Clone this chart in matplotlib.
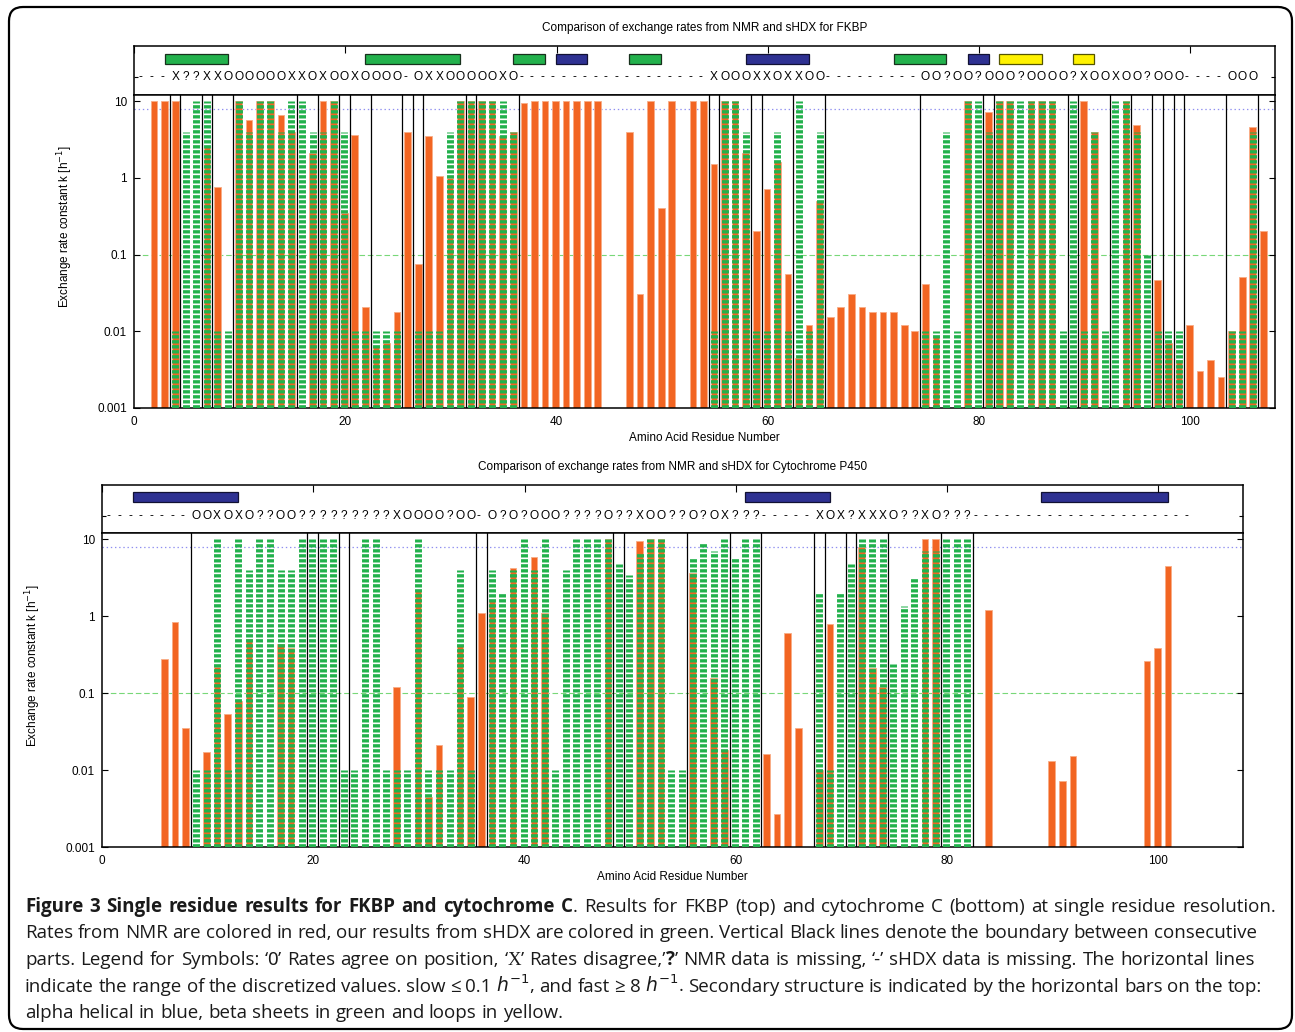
import matplotlib
matplotlib.use("Agg")
import matplotlib.pyplot as plt
import numpy as np
from matplotlib.patches import FancyBboxPatch
from matplotlib.transforms import IdentityTransform
from matplotlib.ticker import NullLocator

plt.rcParams['font.family'] = ['Liberation Sans', 'DejaVu Sans']
plt.rcParams['lines.scale_dashes'] = False

# ---- FKBP (top), residue 1..n, None = no data ----
fkbp_nmr = [None, 10, 10, 10, None, None, 2.5, 0.77, None, 10,
            5.7, 10, 10, 6.6, 4, None, 2.1, 10, 10, 0.35,
            3.6, 0.021, 0.0063, 0.007, 0.018, 4, 0.076, 3.5, 1.04, 1.0,
            10, 10, 10, 10, 3.5, 4, 9.3, 10, 10, 10,
            10, 10, 10, 10, None, None, 4, 0.031, 10, 0.40,
            10, None, 10, 10, 1.5, 10, 10, 2.1, 0.2, 0.71,
            1.6, 0.056, 0.0045, 0.012, 0.5, 0.0155, 0.021, 0.031, 0.021, 0.018,
            0.018, 0.018, 0.012, 0.01, 0.041, 0.0085, None, None, 10, None,
            7.3, 10, 10, None, 10, 10, 10, None, None, 10,
            4, None, None, 10, 4.9, None, 0.047, 0.007, 0.0042, 0.012,
            0.003, 0.0042, 0.0025, 0.01, 0.051, 4.55, 0.2]
fkbp_hdx = [None, None, None, 0.01, 4, 10, 10, 0.01, 0.01, 10,
            4, 10, 10, 4, 10, 10, 4, 4, 10, 4,
            0.01, 0.01, 0.01, 0.01, 0.01, None, 0.01, 0.01, 0.01, 4,
            10, 10, 10, 10, 10, 4, None, None, None, None,
            None, None, None, None, None, None, None, None, None, None,
            None, None, None, None, 0.01, 10, 10, 4, 0.01, 0.01,
            4, 0.01, 10, 0.01, 4, None, None, None, None, None,
            None, None, None, None, 0.01, 0.01, 4, 0.01, 10, 10,
            4, 10, 10, 10, 10, 10, 10, 0.01, 10, 0.01,
            4, 0.01, 10, 10, 4, 0.1, 0.01, 0.01, 0.01, None,
            None, None, None, 0.01, 0.01, 4]
fkbp_sym = "---X??XXOOOOOOXXOXOOXOOOO-OXXOOOOOXO------------------XOOOXXOXXOO---------OO?OO?OOO?OOOO?XOOXOO?OOO----OOO"
fkbp_bounds = [3, 4, 6, 7, 9, 15, 17, 19, 20, 22, 25, 26, 27, 31, 32, 36, 54, 55,
               58, 59, 62, 65, 74, 80, 81, 88, 89, 92, 94, 96, 97, 98, 99, 103, 106]
fkbp_sheets = [(3, 9), (22, 31), (36, 39), (47, 50), (72, 77)]
fkbp_helices = [(40, 43), (58, 64), (79, 81)]
fkbp_loops = [(82, 86), (89, 91)]

# ---- Cytochrome (bottom) ----
cyt_nmr = [None, None, None, None, None, 0.28, 0.84, 0.035, None, 0.017,
           0.22, 0.053, 0.08, 0.5, None, None, 0.44, 0.38, None, None,
           None, None, None, None, None, None, None, 0.12, None, 2.2,
           0.0045, 0.021, None, 0.42, 0.09, 1.1, 1.6, None, 4.2, None,
           5.8, 1.1, None, None, None, None, None, 10, None, None,
           9.5, 10, 10, None, None, 3.6, None, 0.155, 0.018, None,
           None, None, 0.016, 0.0027, 0.61, 0.035, None, 0.01, 0.79, None,
           None, 8, 0.21, 0.12, None, None, None, 10, 10, None,
           None, None, None, 1.2, None, None, None, None, None, 0.013,
           0.0071, 0.015, None, None, None, None, None, None, 0.26, 0.39,
           4.5]
cyt_hdx = [None, None, None, None, None, None, None, None, 0.01, 0.01,
           10, 0.01, 10, 4, 10, 10, 4, 4, 10, 10,
           10, 10, 0.01, 0.01, 10, 10, 0.01, 0.01, 0.01, 10,
           0.01, 0.01, 0.01, 4, 0.01, None, 4, 2.0, 4, 10,
           4, 10, 0.01, 4, 10, 10, 10, 10, 4.7, 3.4,
           6.5, 10, 10, 0.01, 0.01, 5.6, 9, 7, 10, 5.8,
           10, 10, None, None, None, None, None, 2.0, 0.01, 2.0,
           4.7, 10, 10, 10, 0.24, 1.35, 3.1, 7, 7, 10,
           10, 10]
cyt_sym = "--------OOXOXO??OO?????????XOOOO?OO-O?O?OOO????O??XOO??O?OX???-----XOX?XXXO??XO???---------------------"
cyt_bounds = [8, 19, 20, 22, 23, 35, 36, 48, 49, 55, 59, 62, 67, 68, 70, 71, 74, 79, 82]
cyt_helices = [(3, 13), (61, 69), (89, 101)]

ORANGE = '#f26522'
ORANGE_EDGE = '#f8ad86'
GREEN = '#22b14c'
BLUE = '#2e3192'
YELLOW = '#fff200'
YMIN, YMAX = 0.001, 12.0
W, H = 1295, 1032
FS = 8.5

fig = plt.figure(figsize=(W / 100, H / 100), dpi=100)


def box(left, top, right, bottom):
    return [left / W, 1 - bottom / H, (right - left) / W, (bottom - top) / H]


def chart(left, right, top, mid, bottom, title, nmr, hdx, sym, bounds,
          sheets, helices, loops, bar_y, sym_y):
    axp = fig.add_axes(box(left, top, right, mid))
    ax = fig.add_axes(box(left, mid, right, bottom), sharex=axp)

    nmr = np.array(nmr, dtype=float)
    hdx = np.array(hdx, dtype=float)
    xn = np.arange(1, len(nmr) + 1) - 0.1
    xh = np.arange(1, len(hdx) + 1) - 0.1

    ax.axhline(8, color='#8f8ff0', lw=0.9, ls=(0, (1, 2)), zorder=1)
    ax.axhline(0.1, color='#78d878', lw=0.8, ls=(0, (4, 2)), zorder=1)

    ok = ~np.isnan(nmr)
    ax.bar(xn[ok], nmr[ok] - YMIN, bottom=YMIN, width=0.63, color=ORANGE,
           edgecolor=ORANGE_EDGE, linewidth=0.6, zorder=2)
    ok = ~np.isnan(hdx)
    lc = ax.vlines(xh[ok], YMIN, hdx[ok], colors=GREEN, linewidths=5.0,
                   linestyles=[(0, (2.4, 1.2))], zorder=3)
    lc.set_capstyle('butt')

    for b in bounds:
        ax.axvline(b + 0.4, color='black', lw=0.9, zorder=4)

    ax.set_yscale('log')
    ax.set_ylim(YMIN, YMAX)
    ax.set_xlim(0, 108)
    ax.set_yticks([0.001, 0.01, 0.1, 1, 10])
    ax.set_yticklabels(['0.001', '0.01', '0.1', '1', '10'])
    ax.yaxis.set_minor_locator(NullLocator())
    ax.set_xticks(range(0, 101, 20))
    ax.tick_params(direction='in', length=4, width=0.8, labelsize=FS, pad=5,
                   right=True)
    ax.tick_params(axis='x', length=0, pad=6)
    for sp in ax.spines.values():
        sp.set_linewidth(1.1)

    ax.set_ylabel('Exchange rate constant k [h$^{-1}$]', fontsize=FS)
    ax.yaxis.set_label_coords(-0.0513, (bottom - (top + bottom) / 2) / (bottom - mid))
    ax.set_xlabel('Amino Acid Residue Number', fontsize=FS)
    ax.xaxis.set_label_coords(0.5, -24 / (bottom - mid))

    # top panel: secondary structure + agreement symbols
    axp.set_ylim(0, 1)
    for (s, e) in sheets:
        axp.barh(bar_y, e - s, left=s - 0.1, height=0.205, color=GREEN,
                 edgecolor='#17301c', lw=0.9)
    for (s, e) in helices:
        axp.barh(bar_y, e - s, left=s - 0.1, height=0.205, color=BLUE,
                 edgecolor='#111133', lw=0.9)
    for (s, e) in loops:
        axp.barh(bar_y, e - s, left=s - 0.1, height=0.205, color=YELLOW,
                 edgecolor='#555500', lw=0.9)
    for i, c in enumerate(sym):
        shift = -0.25 if c == '-' else 0.0
        axp.text(i + 1 - 0.1 + shift, sym_y, c, ha='center', va='center',
                 fontsize=8.6)
    axp.set_yticks([sym_y])
    axp.tick_params(axis='y', direction='in', left=True, right=True,
                    labelleft=False, length=3, width=0.8)
    axp.tick_params(axis='x', direction='in', top=True, bottom=False,
                    labelbottom=False, labeltop=False, length=5, width=0.8)
    for sp in axp.spines.values():
        sp.set_linewidth(1.1)

    fig.text((left + right) / 2 / W, 1 - (top - 18) / H, title,
             ha='center', va='center', fontsize=FS)


chart(134, 1275, 46, 95, 408,
      'Comparison of exchange rates from NMR and sHDX for FKBP',
      fkbp_nmr, fkbp_hdx, fkbp_sym, fkbp_bounds,
      fkbp_sheets, fkbp_helices, fkbp_loops, 0.735, 0.367)
chart(102, 1243, 485, 533, 847,
      'Comparison of exchange rates from NMR and sHDX for Cytochrome P450',
      cyt_nmr, cyt_hdx, cyt_sym, cyt_bounds,
      [], cyt_helices, [], 0.75, 0.354)

# rounded frame around the whole figure
frame = FancyBboxPatch((9, H - 1029), 1283, 1022,
                       boxstyle='round,pad=0,rounding_size=14',
                       transform=IdentityTransform(), fill=False,
                       lw=1.6, edgecolor='black')
fig.patches.append(frame)

# caption, set word by word so that lines 1-4 are justified
cap_lines = [
    [("Figure 3 Single residue results for FKBP and cytochrome C", "bold"),
     (". Results for FKBP (top) and cytochrome C (bottom) at single residue resolution.", "normal")],
    [("Rates from NMR are colored in red, our results from sHDX are colored in green. "
      "Vertical Black lines denote the boundary between consecutive", "normal")],
    [("parts. Legend for Symbols: \u2018", "normal"), ("0", "sym"),
     ("\u2019 Rates agree on position, \u2018", "normal"), ("X", "serif"),
     ("\u2019 Rates disagree,\u2019", "normal"), ("?", "bold"),
     ("\u2019 NMR data is missing, \u2018-\u2019 sHDX data is missing. The horizontal lines", "normal")],
    [("indicate the range of the discretized values. slow \u2264 0.1 $h^{-1}$, and fast "
      "\u2265 8 $h^{-1}$. Secondary structure is indicated by the horizontal bars on the top:", "normal")],
    [("alpha helical in blue, beta sheets in green and loops in yellow.", "normal")],
]
cap_ends = [1276, 1257, 1255, 1262, None]
styles = {
    'normal': dict(family=['Open Sans', 'DejaVu Sans']),
    'bold': dict(family=['Open Sans', 'DejaVu Sans'], weight='bold'),
    'sym': dict(family=['Noto Sans', 'DejaVu Sans']),
    'serif': dict(family=['Liberation Serif', 'DejaVu Serif']),
}
r = fig.canvas.get_renderer()


def tokens(line):
    out = []
    for s, st in line:
        for j, p in enumerate(s.split(' ')):
            if p:
                out.append((p, st, j > 0))
    return out


def measure(s, st, size):
    t = fig.text(0, 0, s, fontsize=size, **styles[st])
    w = t.get_window_extent(r).width
    t.remove()
    return w


base = 12
space0 = measure('a a', 'normal', base) - measure('aa', 'normal', base)
tk = tokens(cap_lines[0])
nat = sum(measure(p, st, base) for p, st, _ in tk) + space0 * sum(sp for _, _, sp in tk)
cap_size = base * (1251 / nat) * 0.975
space = space0 * cap_size / base

for i, line in enumerate(cap_lines):
    tk = tokens(line)
    y = 912 + i * 26.5
    texts, widths = [], []
    for p, st, sp in tk:
        t = fig.text(0, 1 - y / H, p, fontsize=cap_size, ha='left',
                     va='baseline', color='#1a1a1a', **styles[st])
        texts.append(t)
        widths.append(t.get_window_extent(r).width)
    nsp = sum(sp for _, _, sp in tk)
    if cap_ends[i] is not None:
        gap = (cap_ends[i] - 25 - sum(widths)) / nsp
    else:
        gap = space
    x = 25
    for t, w, (p, st, sp) in zip(texts, widths, tk):
        if sp:
            x += gap
        t.set_x(x / W)
        x += w

fig.savefig('out.png', dpi=100)
